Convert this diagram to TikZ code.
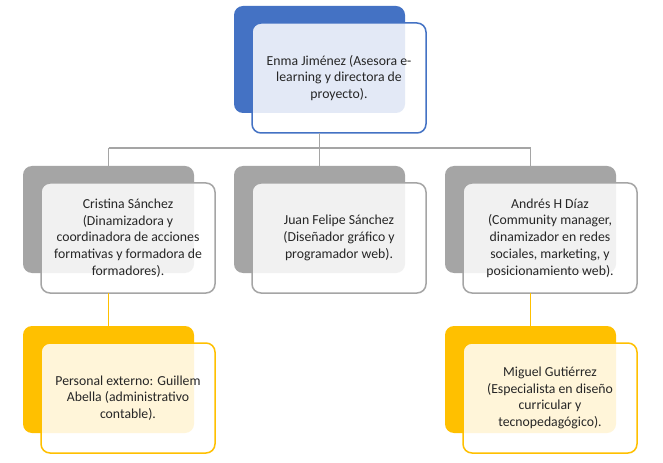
\documentclass[tikz,border=0pt]{standalone}
\usepackage{fontspec}
\setmainfont{Carlito}
\definecolor{cblue}{HTML}{4472C4}
\definecolor{cgray}{HTML}{A5A5A5}
\definecolor{cyel}{HTML}{FFC000}
\definecolor{ctext}{HTML}{262626}
\begin{document}
\begin{tikzpicture}[x=1bp,y=-1bp,
  back/.style={rectangle,rounded corners=9bp,anchor=north west,minimum width=171bp,minimum height=107bp,outer sep=0pt,inner sep=0pt},
  front/.style={rectangle,rounded corners=9bp,anchor=north west,minimum width=174bp,minimum height=110bp,outer sep=0pt,inner sep=0pt,
    fill=white,fill opacity=0.85,text opacity=1,line width=1.5bp,align=center,text=ctext,
    font=\fontsize{13.8}{16.8}\selectfont},
  conn/.style={line width=1.5bp}]
\useasboundingbox (0,0) rectangle (663,463);
\fill[white] (0,0) rectangle (663,463);
% back rectangles
\node[back,fill=cblue] (tb) at (234,6) {};
\node[back,fill=cgray] (lb) at (23,166) {};
\node[back,fill=cgray] (mb) at (234,166) {};
\node[back,fill=cgray] (rb) at (445,166) {};
\node[back,fill=cyel] (lyb) at (23,326) {};
\node[back,fill=cyel] (ryb) at (445,326) {};
% front boxes
\node[front,draw=cblue] (tf) at (252,23) {Enma Jiménez (Asesora e-\\learning y directora de\\proyecto).};
\node[front,draw=cgray] (lf) at (41,183) {Cristina Sánchez\\(Dinamizadora y\\coordinadora de acciones\\formativas y formadora de\\formadores).};
\node[front,draw=cgray] (mf) at (252,183) {Juan Felipe Sánchez\\(Diseñador gráfico y\\programador web).};
\node[front,draw=cgray] (rf) at (463,183) {Andrés H Díaz\\(Community manager,\\dinamizador en redes\\sociales, marketing, y\\posicionamiento web).};
\node[front,draw=cyel] (lyf) at (41,343) {Personal externo: Guillem\\Abella (administrativo\\contable).};
\node[front,draw=cyel] (ryf) at (463,343) {Miguel Gutiérrez\\(Especialista en diseño\\curricular y\\tecnopedagógico).};
% connectors
\coordinate (j) at (0,148);
\draw[conn,draw=cgray] (tf.south -| tb.south) -- (tb.south |- j);
\draw[conn,draw=cgray] (lb.north |- j) -- (rb.north |- j);
\draw[conn,draw=cgray] (lb.north |- j) -- (lb.north);
\draw[conn,draw=cgray] (mb.north |- j) -- (mb.north);
\draw[conn,draw=cgray] (rb.north |- j) -- (rb.north);
\draw[conn,draw=cyel] (lf.south -| lb.south) -- (lyb.north);
\draw[conn,draw=cyel] (rf.south -| rb.south) -- (ryb.north);
\end{tikzpicture}
\end{document}
